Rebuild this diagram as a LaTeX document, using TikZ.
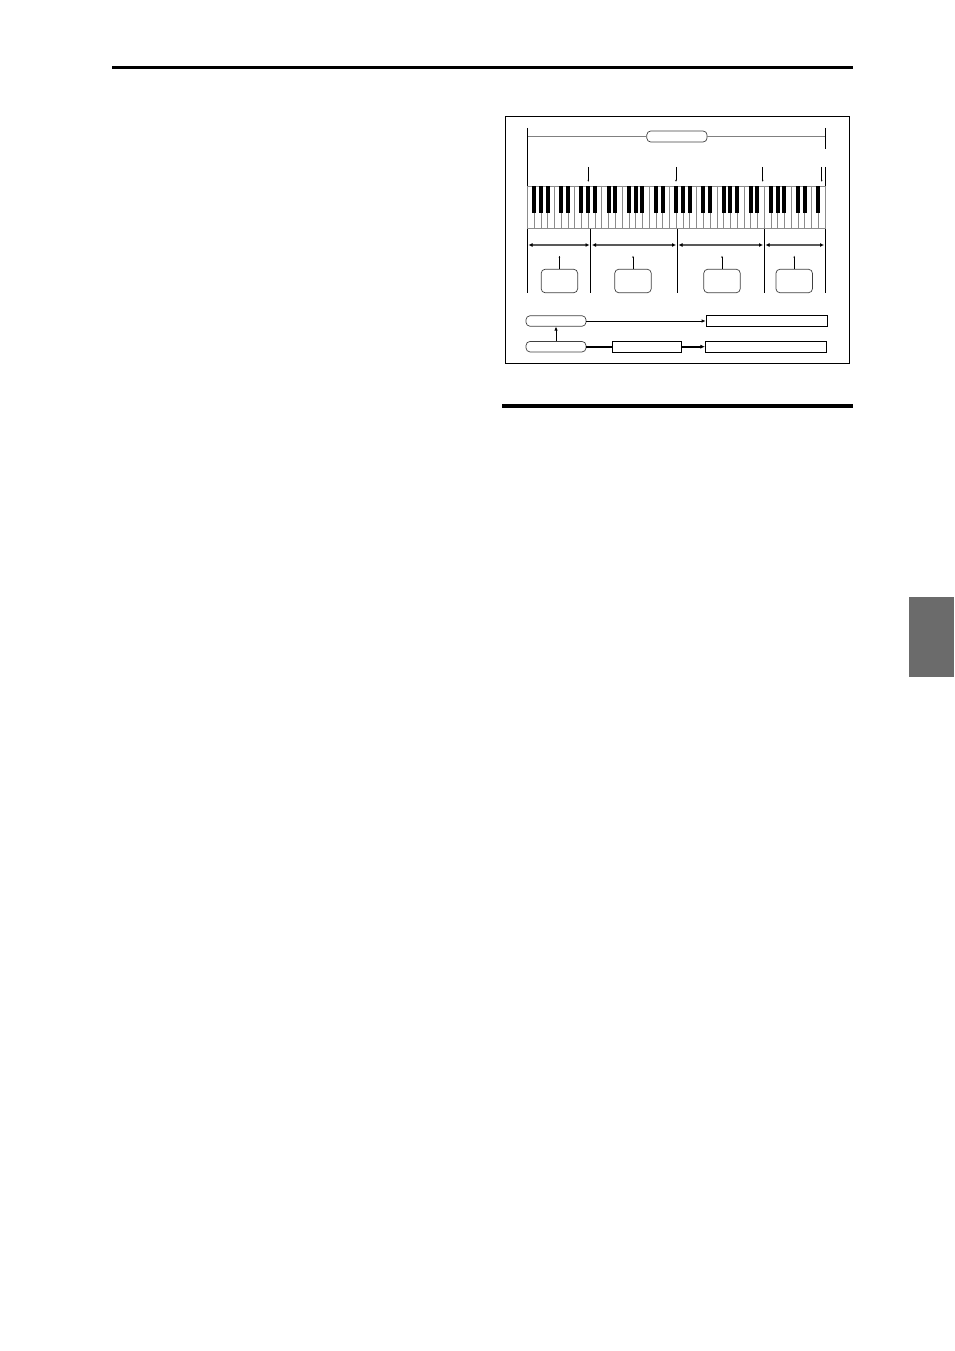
\documentclass[tikz,border=0pt]{standalone}
\usetikzlibrary{arrows.meta}
\begin{document}
\begin{tikzpicture}[x=1pt,y=-1pt,
  pill/.style={draw=black!75,rounded corners=4pt,inner sep=0pt,minimum height=10.5pt,minimum width=60pt,line width=0.7pt},
  zonebox/.style={draw=black!75,rounded corners=4pt,inner sep=0pt,minimum width=36.5pt,minimum height=23.5pt,line width=0.7pt},
  field/.style={draw,inner sep=0pt,minimum height=10.5pt,line width=0.8pt},
  span/.style={{Latex[length=4pt,width=4pt,black]}-{Latex[length=4pt,width=4pt,black]},line width=1.7pt,black!65},
  tick/.style={-{Latex[length=2pt,width=1.6pt]},line width=0.7pt},
  split/.style={line width=0.9pt}]
\useasboundingbox (0,0) rectangle (954,1351);
% page rules and tab
\draw[line width=3pt] (112,68) -- (853,68);
\draw[line width=4.5pt] (502,406) -- (853,406);
\fill[black!58] (909,597) rectangle (954,677);
% frame
\draw[line width=0.9pt] (505.7,116) rectangle (849,363.5);
% whole range
\node[pill,minimum width=60.3pt,minimum height=11pt] (range) at (676.9,136.5) {};
\draw[black!50,line width=1.2pt] (527.3,136.5) -- (range.west);
\draw[black!50,line width=1.2pt] (range.east) -- (825,136.5);
\draw[split] (527.3,128) -- (527.3,293);
\draw[split] (825,128) -- (825,149);
\draw[split] (825,167) -- (825,293);
% keyboard
\def\kw{6.766}
\draw[black!45,line width=0.6pt] (527.3,186) rectangle (825,228.5);
\foreach \i in {1,...,43}
  \draw[black!45,line width=0.5pt] ({527.3+\i*\kw},186) -- ++(0,42.5);
\foreach \o in {0,...,5}
  \foreach \b in {1,2,3,5,6}
    \fill ({527.3+(7*\o+\b)*\kw-2},186) rectangle ++(4,27);
\fill ({527.3+43*\kw-2},186) rectangle ++(4,27);
% split points
\foreach \x in {588.3,676,762.7,821.7}
  \draw[tick] (\x,167) -- (\x,182);
\foreach \x in {590.7,677.3,764.3}
  \draw[split] (\x,228.5) -- (\x,293);
% zones
\draw[span] (528.5,245) -- (589.5,245);
\draw[span] (592,245) -- (676,245);
\draw[span] (678.5,245) -- (763,245);
\draw[span] (765.5,245) -- (824,245);
\foreach \x [count=\n] in {559.4,633,722,794.2} {
  \node[zonebox] (z\n) at (\x,281) {};
  \draw[tick] (z\n.north) -- ++(0,-13.3);
}
% routing
\node[pill] (src) at (556,321) {};
\node[pill] (org) at (556,346.7) {};
\node[field,minimum width=121.3pt] (dst1) at (766.7,321) {};
\node[field,minimum width=69.4pt] (proc) at (647,346.7) {};
\node[field,minimum width=120.7pt] (dst2) at (765.7,346.7) {};
\draw[-{Latex[length=4pt,width=3.5pt]},line width=0.7pt] (src) -- (dst1);
\draw[-{Latex[length=4pt,width=3.5pt]},line width=0.9pt] (org) -- (src);
\draw[line width=1.8pt] (org) -- (proc);
\draw[-{Latex[length=4.5pt,width=4pt]},line width=1.8pt] (proc) -- (dst2);
\end{tikzpicture}
\end{document}
